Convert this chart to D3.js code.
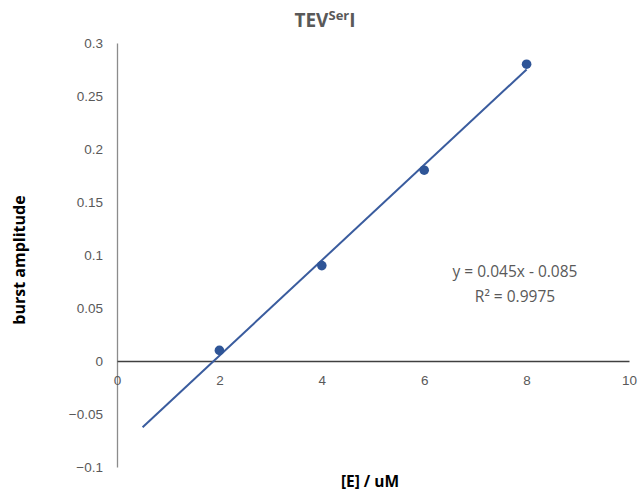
<!DOCTYPE html>
<html><head><meta charset="utf-8">
<script src="https://cdn.jsdelivr.net/npm/d3@7"></script>
<style>body{margin:0;background:#fff;} svg{display:block;font-family:"Open Sans","Noto Sans",sans-serif;}</style>
</head><body>
<script>
const xValues = [2, 4, 6, 8];
const yValues = [0.01, 0.09, 0.18, 0.28];
const xTicks = [0, 2, 4, 6, 8, 10];
const yTicks = [-0.1, -0.05, 0, 0.05, 0.1, 0.15, 0.2, 0.25, 0.3];
const trendSlope = 0.045, trendIntercept = -0.085;
const trendRange = [0.5, 8];
const equationLines = ["y = 0.045x - 0.085", "R\u00B2 = 0.9975"];

const W = 638, H = 500;
const svg = d3.select("body").append("svg").attr("width", W).attr("height", H);
const x = d3.scaleLinear().domain([0, 10]).range([117, 629]);
const y = d3.scaleLinear().domain([-0.1, 0.3]).range([467, 43]);

const yAxis = d3.axisLeft(y).tickValues(yTicks).tickSize(0).tickPadding(14)
  .tickFormat(d => d3.format("~g")(d));
const gy = svg.append("g").attr("transform", `translate(${x(0)},0)`).call(yAxis);
gy.select(".domain").attr("stroke", "#8c8c8c").attr("stroke-width", 1.3);
gy.selectAll("text").attr("fill", "#595959").attr("font-size", 13.5);

const xAxis = d3.axisBottom(x).tickValues(xTicks).tickSize(0).tickPadding(14);
const gx = svg.append("g").attr("transform", `translate(0,${y(0)})`).call(xAxis);
gx.select(".domain").attr("stroke", "#404040").attr("stroke-width", 1.3);
gx.selectAll("text").attr("fill", "#595959").attr("font-size", 13.5);

svg.append("line")
  .attr("x1", x(trendRange[0])).attr("y1", y(trendSlope*trendRange[0]+trendIntercept))
  .attr("x2", x(trendRange[1])).attr("y2", y(trendSlope*trendRange[1]+trendIntercept))
  .attr("stroke", "#3A5C9E").attr("stroke-width", 2);

svg.selectAll("circle.pt").data(xValues.map((v,i)=>[v,yValues[i]])).join("circle")
  .attr("class","pt").attr("cx", d=>x(d[0])).attr("cy", d=>y(d[1])).attr("r", 4.8)
  .attr("fill", "#2F5597");

svg.selectAll("text.eq").data(equationLines).join("text").attr("class","eq")
  .attr("x", 515).attr("y", (d,i)=>277 + i*25).attr("text-anchor","middle")
  .attr("fill","#595959").attr("font-size", 15.5).text(d=>d);

const t = svg.append("text").attr("x", 325).attr("y", 27).attr("text-anchor","middle")
  .attr("fill","#595959").attr("font-size", 19).attr("font-weight","bold");
t.append("tspan").text("TEV");
t.append("tspan").attr("font-size", 13).attr("dy", -7).text("Ser");
t.append("tspan").attr("dy", 7).text("I");

svg.append("text").attr("x", 370).attr("y", 487).attr("text-anchor","middle")
  .attr("font-size", 15.5).attr("font-weight","bold").attr("fill","#000").text("[E] / uM");
svg.append("text").attr("transform","translate(25,260) rotate(-90)").attr("text-anchor","middle")
  .attr("font-size", 16).attr("font-weight","bold").attr("fill","#000").text("burst amplitude");
</script>
</body></html>
